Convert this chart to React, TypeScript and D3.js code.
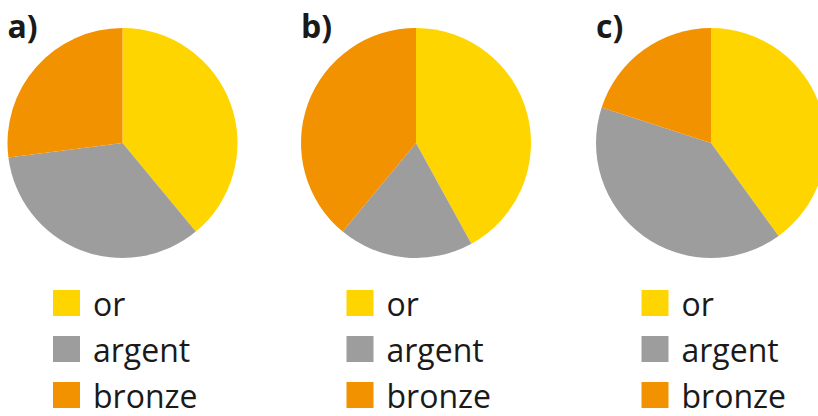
import React from "react";
import * as d3 from "d3";

const categories = ["or", "argent", "bronze"];
const colors = ["#FFD500", "#9D9D9D", "#F39200"];
const panelLabels = ["a)", "b)", "c)"];
const valuesA = [39, 34, 27];
const valuesB = [42, 19, 39];
const valuesC = [40, 40, 20];
const panels = [valuesA, valuesB, valuesC];

const W = 818;
const H = 416;
const radius = 115;
const centersX = [122.5, 416, 711];
const centerY = 143;

const font = "'Open Sans', 'Noto Sans', sans-serif";

const App: React.FC = () => {
  const pie = d3
    .pie<number>()
    .value((d) => d)
    .sort(null);
  const arc = d3.arc<d3.PieArcDatum<number>>().innerRadius(0).outerRadius(radius);

  return (
    <svg
      width={W}
      height={H}
      style={{ position: "absolute", left: 0, top: 0, background: "#fff" }}
    >
      {panels.map((vals, p) => {
        const cx = centersX[p];
        const legendX = cx - 69.5;
        return (
          <g key={p}>
            <g transform={`translate(${cx},${centerY})`}>
              {pie(vals).map((d, i) => (
                <path key={i} d={arc(d) || ""} fill={colors[i]} />
              ))}
            </g>
            <text
              x={cx - 115}
              y={38}
              fontFamily={font}
              fontWeight={700}
              fontSize={32}
              fill="#1a1a1a"
            >
              {panelLabels[p]}
            </text>
            {categories.map((c, i) => {
              const baseline = 316 + i * 46;
              return (
                <g key={c}>
                  <rect
                    x={legendX}
                    y={baseline - 26}
                    width={27}
                    height={26}
                    fill={colors[i]}
                  />
                  <text
                    x={legendX + 40}
                    y={baseline}
                    fontFamily={font}
                    fontSize={32}
                    fill="#1a1a1a"
                  >
                    {c}
                  </text>
                </g>
              );
            })}
          </g>
        );
      })}
    </svg>
  );
};

export default App;
